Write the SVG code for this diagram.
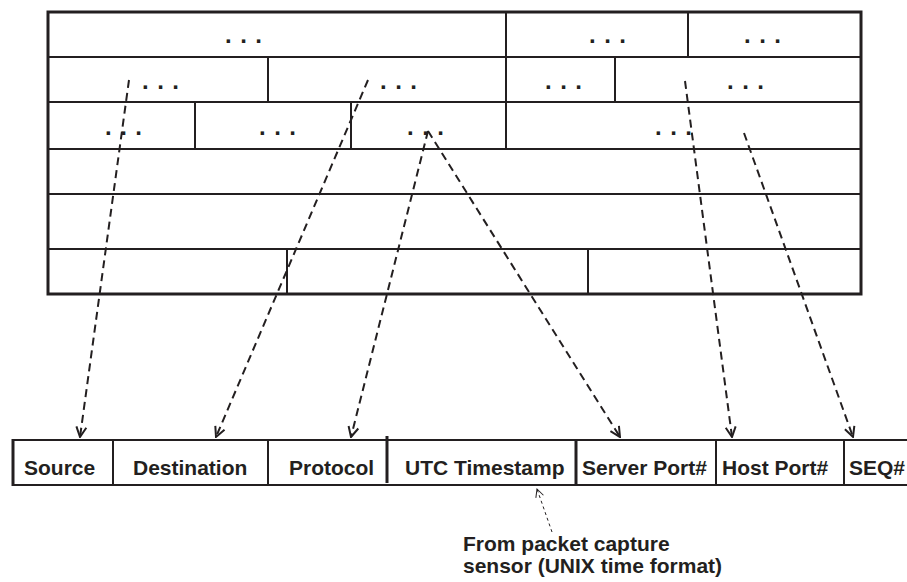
<svg xmlns="http://www.w3.org/2000/svg" width="907" height="582" viewBox="0 0 907 582">
<style>
.t{font-family:"Liberation Sans",Arial,sans-serif;font-weight:bold;fill:#231f20}
.lbl{font-size:21px}
.dots{font-size:24px;letter-spacing:0.9px;text-anchor:middle}
.ln{stroke:#231f20;stroke-width:2;fill:none}
.thick{stroke:#231f20;stroke-width:3;fill:none}
.dash{stroke:#231f20;stroke-width:2;stroke-dasharray:8 5;fill:none}
.thin{stroke:#231f20;stroke-width:1;stroke-dasharray:3 3;fill:none}
</style>
<defs>
<marker id="ah" markerUnits="userSpaceOnUse" markerWidth="14" markerHeight="14" viewBox="0 0 14 14" refX="13" refY="7" orient="auto">
<path d="M3,2 L13,7 L3,12" fill="none" stroke="#231f20" stroke-width="2" stroke-dasharray="none"/>
</marker>
<marker id="ahs" markerUnits="userSpaceOnUse" markerWidth="12" markerHeight="12" viewBox="0 0 12 12" refX="11" refY="6" orient="auto">
<path d="M3,2 L11,6 L3,10" fill="none" stroke="#231f20" stroke-width="1" stroke-dasharray="none"/>
</marker>
</defs>
<rect width="907" height="582" fill="#ffffff"/>
<g id="packet-table">
<rect x="48" y="12" width="813" height="282" class="thick"/>
<line x1="48" y1="57" x2="861" y2="57" class="ln"/>
<line x1="48" y1="102" x2="861" y2="102" class="ln"/>
<line x1="48" y1="149" x2="861" y2="149" class="ln"/>
<line x1="48" y1="194" x2="861" y2="194" class="ln"/>
<line x1="48" y1="249" x2="861" y2="249" class="ln"/>
<line x1="506" y1="12" x2="506" y2="149" class="ln"/>
<line x1="688" y1="12" x2="688" y2="57" class="ln"/>
<line x1="268" y1="57" x2="268" y2="102" class="ln"/>
<line x1="615" y1="57" x2="615" y2="102" class="ln"/>
<line x1="195" y1="102" x2="195" y2="149" class="ln"/>
<line x1="351" y1="102" x2="351" y2="149" class="ln"/>
<line x1="287" y1="249" x2="287" y2="294" class="ln"/>
<line x1="588" y1="249" x2="588" y2="294" class="ln"/>
<text class="t dots" x="244" y="43">. . .</text>
<text class="t dots" x="608" y="43">. . .</text>
<text class="t dots" x="763" y="43">. . .</text>
<text class="t dots" x="161" y="89">. . .</text>
<text class="t dots" x="399" y="89">. . .</text>
<text class="t dots" x="564" y="89">. . .</text>
<text class="t dots" x="746" y="89">. . .</text>
<text class="t dots" x="124" y="135">. . .</text>
<text class="t dots" x="278" y="135">. . .</text>
<text class="t dots" x="426" y="135">. . .</text>
<text class="t dots" x="674" y="135">. . .</text>
</g>
<g id="record-table">
<line x1="12" y1="440" x2="907" y2="440" class="ln"/>
<line x1="12" y1="485" x2="907" y2="485" class="ln"/>
<line x1="13" y1="439" x2="13" y2="486" class="thick"/>
<line x1="113" y1="440" x2="113" y2="485" class="ln"/>
<line x1="268" y1="440" x2="268" y2="485" class="ln"/>
<line x1="387" y1="436" x2="387" y2="483" class="thick"/>
<line x1="576" y1="440" x2="576" y2="485" class="thick"/>
<line x1="716" y1="440" x2="716" y2="485" class="ln"/>
<line x1="844" y1="440" x2="844" y2="485" class="ln"/>
<text class="t lbl" x="24" y="475">Source</text>
<text class="t lbl" x="133" y="475">Destination</text>
<text class="t lbl" x="289" y="475">Protocol</text>
<text class="t lbl" x="405" y="475">UTC Timestamp</text>
<text class="t lbl" x="582" y="475">Server Port#</text>
<text class="t lbl" x="722" y="475">Host Port#</text>
<text class="t lbl" x="849" y="475">SEQ#</text>
</g>
<g id="caption">
<text class="t lbl" x="463" y="551">From packet capture</text>
<text class="t lbl" x="463" y="573">sensor (UNIX time format)</text>
</g>
<g id="connectors">
<line x1="129" y1="80" x2="80" y2="437" class="dash" marker-end="url(#ah)"/>
<line x1="368" y1="80" x2="216" y2="437" class="dash" marker-end="url(#ah)"/>
<line x1="428" y1="131" x2="351" y2="437" class="dash" marker-end="url(#ah)"/>
<line x1="428" y1="131" x2="620" y2="437" class="dash" marker-end="url(#ah)"/>
<line x1="685" y1="81" x2="732" y2="437" class="dash" marker-end="url(#ah)"/>
<line x1="744" y1="133" x2="853" y2="437" class="dash" marker-end="url(#ah)"/>
<line x1="552" y1="532" x2="537" y2="489" class="thin" marker-end="url(#ahs)"/>
</g>
</svg>
